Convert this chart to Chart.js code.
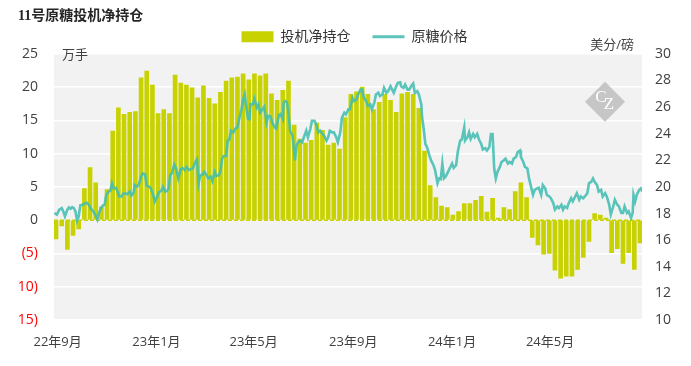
<!DOCTYPE html>
<html><head><meta charset="utf-8">
<script src="https://cdn.jsdelivr.net/npm/chart.js@4.4.1/dist/chart.umd.min.js"></script>
<style>html,body{margin:0;padding:0;background:#fff;}#wrap{width:691px;height:366px;}</style>
</head><body><div id="wrap"><canvas id="c" width="691" height="366"></canvas></div>
<script>
// ---- data ----
const firstReportDate = '2022-08-30';   // weekly CFTC reports from this date
const netPositions = [ // 投机净持仓, 万手
  -2.8,-0.85,-4.4,-2.3,-1.3,4.75,7.9,5.6,2.0,4.6,
  13.4,16.9,15.9,16.2,16.3,21.4,22.4,20.3,16.0,16.6,
  16.0,21.8,20.6,20.3,19.9,18.4,20.2,18.3,17.5,19.2,
  20.9,21.4,21.5,22.0,21.1,22.0,21.7,22.0,19.0,18.0,
  19.5,20.9,14.3,12.2,11.6,12.0,14.6,13.5,11.3,11.6,
  10.7,15.4,18.9,19.3,20.0,18.9,16.6,17.7,18.9,18.0,
  16.2,19.0,19.2,18.9,16.8,10.4,5.2,3.4,2.1,1.9,
  0.75,1.3,2.5,2.5,3.0,3.6,1.2,3.3,0.3,1.9,
  1.6,4.3,5.6,3.4,-2.6,-3.7,-5.1,-5.0,-7.5,-8.7,
  -8.4,-8.4,-7.4,-5.6,-3.2,1.0,0.75,0.3,-4.9,-4.3,
  -6.5,-4.9,-7.4,-3.4
];
// 原糖价格 (美分/磅): days after firstReportDate, and price
const priceDays = [
  -2,1,4,7,9,11,14,16,18,20,22,24,26,28,30,33,36,38,41,43,46,48,51,53,56,58,60,62,65,67,
  69,71,74,76,78,81,83,86,88,91,93,96,97,100,102,105,107,110,112,115,117,120,122,125,127,130,132,135,137,139,
  141,143,146,148,151,154,156,159,161,164,166,169,171,174,176,178,181,183,186,188,191,193,196,198,201,203,205,207,210,212,
  214,216,219,221,224,226,229,231,233,234,237,239,240,243,245,248,250,252,255,257,260,262,265,267,270,272,275,277,280,281,
  283,285,287,289,292,294,295,297,299,301,304,306,309,311,314,316,319,321,324,326,329,331,334,336,338,341,343,346,348,351,
  353,356,358,361,363,366,368,371,373,376,378,380,383,385,388,390,393,395,398,400,403,405,408,410,413,415,417,420,422,425,
  426,429,431,434,436,439,441,443,446,448,451,452,454,456,458,461,463,466,468,471,473,475,477,479,481,484,486,489,491,494,
  496,499,501,504,505,508,510,512,515,517,520,522,525,527,530,532,535,537,539,541,543,545,548,550,553,555,558,560,563,565,
  568,570,573,574,577,579,582,584,587,589,591,594,596,599,601,604,606,609,611,614,616,619,621,624,626,628,631,633,636,638,
  641,643,646,648,651,653,656,658,661,663,665,668,670,673,675,678,680,683,685,688,690,693,695,698,700,702,705,707,710,712,
  713,715,717,720,722,724
];
const priceValues = [
  18.04,17.92,18.29,18.41,18.16,17.79,18.29,18.46,18.36,18.48,18.41,18.16,17.47,17.79,18.61,18.66,18.76,18.81,18.61,18.36,18.16,17.96,17.55,18.04,18.46,18.61,18.66,19.40,19.65,19.70,
  20.27,19.89,19.94,19.65,19.28,19.28,19.50,19.50,19.45,19.65,19.35,19.60,20.14,20.02,20.14,20.76,21.01,20.93,20.09,20.02,19.89,19.40,18.91,19.28,19.60,19.70,20.02,19.65,19.70,19.89,
  20.88,21.01,21.68,21.43,20.64,21.33,21.43,21.26,21.50,21.26,21.33,21.38,21.75,22.07,20.27,20.88,20.93,21.13,20.88,20.64,20.76,20.44,21.13,20.83,20.88,21.18,22.12,22.32,22.32,23.48,
  23.56,24.22,24.10,24.35,24.47,25.09,25.83,26.57,26.94,26.38,25.14,25.09,26.20,26.20,26.62,25.96,26.20,25.58,25.83,26.03,24.84,25.34,25.29,24.84,24.47,24.40,25.38,25.46,25.09,26.33,
  26.45,26.38,25.58,24.22,23.85,22.62,22.00,23.11,23.36,23.48,23.36,23.73,24.22,23.73,24.35,24.97,24.97,24.72,24.10,24.22,23.98,23.85,23.48,23.73,24.22,24.10,24.10,23.73,23.36,24.10,
  25.21,25.58,25.46,25.83,25.83,26.70,26.45,26.57,26.94,27.31,27.31,26.70,26.45,26.08,26.20,25.83,26.33,26.94,27.07,26.82,26.94,27.44,27.07,27.19,27.56,27.31,27.07,27.56,27.81,27.86,
  27.56,27.44,27.69,27.31,27.31,27.61,27.76,27.07,27.19,26.94,26.20,25.21,24.35,23.23,22.99,22.37,22.00,21.63,21.26,20.27,20.64,20.59,21.75,20.64,20.76,21.13,21.38,21.75,21.43,21.63,
  22.62,23.48,23.56,24.47,23.48,23.73,24.10,23.60,23.98,23.73,23.98,23.60,23.23,22.81,22.91,22.74,22.99,23.98,23.98,21.38,20.64,21.13,21.50,21.87,22.00,22.12,21.75,21.87,21.75,22.12,
  22.25,22.62,22.74,22.25,21.87,21.50,21.38,20.64,19.89,19.40,19.77,19.89,19.94,19.40,20.14,19.89,19.40,19.28,19.15,18.78,18.29,18.53,18.41,18.66,18.29,18.53,18.41,18.78,19.15,18.91,
  19.28,19.52,19.03,19.28,19.15,19.28,19.52,20.27,20.39,20.64,20.39,20.14,19.65,19.77,19.28,19.52,19.28,18.66,17.92,18.53,19.03,18.66,18.53,18.04,18.04,18.53,18.04,18.16,17.67,18.04,
  19.40,18.91,19.40,19.77,19.89,19.65
];
const tickMonths = ['2022-09-01','2023-01-01','2023-05-01','2023-09-01','2024-01-01','2024-05-01'];
const tickLabels = ['22年9月','23年1月','23年5月','23年9月','24年1月','24年5月'];
const seriesNames = ['投机净持仓','原糖价格'];

// ---- build ----
const DAY = 86400000;
const t0 = Date.parse(firstReportDate);
const tickDays = tickMonths.map(s => (Date.parse(s) - t0) / DAY);
const lastDay = (netPositions.length - 1) * 7;
const xMin = -2.5, xMax = lastDay + 2.5;
const barData = netPositions.map((v, i) => ({x: i * 7, y: v}));
const lineData = priceDays.map((d, i) => ({x: d, y: priceValues[i]}));

const FONT = '"Open Sans","Noto Sans CJK SC",sans-serif';
const BAR = '#c8d200';
const TEAL = 'rgba(66,189,178,0.88)';

const bgPlugin = {
  id: 'bg',
  beforeDraw(chart) {
    const {ctx, chartArea: a} = chart;
    ctx.save(); ctx.fillStyle = '#f2f2f2';
    ctx.fillRect(a.left, a.top, a.right - a.left, a.bottom - a.top);
    ctx.restore();
  },
  afterDraw(chart) {
    const {ctx, chartArea: a} = chart;
    ctx.save();
    ctx.fillStyle = '#404040';
    ctx.font = '13px ' + FONT;
    ctx.textBaseline = 'middle';
    ctx.textAlign = 'left';
    ctx.fillText('万手', a.left + 8, a.top + 1);
    ctx.textAlign = 'right';
    ctx.fillText('美分/磅', a.right - 8, a.top - 9);
    // watermark
    const cx = a.right - 37, cy = a.top + 48, r = 20;
    ctx.fillStyle = '#c6c6c6';
    ctx.beginPath(); ctx.moveTo(cx, cy - r); ctx.lineTo(cx + r, cy); ctx.lineTo(cx, cy + r); ctx.lineTo(cx - r, cy); ctx.closePath(); ctx.fill();
    ctx.fillStyle = '#ffffff';
    ctx.font = '17px "Liberation Serif",serif';
    ctx.textAlign = 'center';
    ctx.fillText('C', cx - 4, cy - 4);
    ctx.fillText('Z', cx + 4, cy + 3);
    ctx.restore();
  }
};

new Chart(document.getElementById('c'), {
  data: {
    datasets: [
      {type: 'bar', label: seriesNames[0], data: barData, backgroundColor: BAR, barThickness: 4, yAxisID: 'y', order: 2, pointStyle: 'rect'},
      {type: 'line', label: seriesNames[1], data: lineData, borderColor: TEAL, borderWidth: 2.6, pointRadius: 0, pointStyle: 'line', pointBorderColor: '#5cc4ba', pointBorderWidth: 3, tension: 0, yAxisID: 'y1', order: 0},
      {type: 'line', label: 'zero', data: [{x: xMin, y: 0}, {x: xMax, y: 0}], borderColor: BAR, borderWidth: 1.5, borderDash: [4, 2], pointRadius: 0, yAxisID: 'y', order: 1}
    ]
  },
  options: {
    responsive: false, animation: false, devicePixelRatio: 1,
    layout: {padding: {left: 18, right: 0, top: 0, bottom: 0}},
    plugins: {
      tooltip: {enabled: false},
      title: {display: true, text: '11号原糖投机净持仓', align: 'start', color: '#262626',
        font: {size: 14, weight: 'bold', family: '"Liberation Serif","Noto Sans CJK SC",serif'}, padding: {top: 8, bottom: -17}},
      legend: {position: 'top', labels: {usePointStyle: true, pointStyleWidth: 32, boxWidth: 32, boxHeight: 11, padding: 22,
        color: '#333333', font: {size: 14, family: FONT},
        filter: it => it.datasetIndex < 2, sort: (a, b) => a.datasetIndex - b.datasetIndex}}
    },
    scales: {
      x: {type: 'linear', offset: false, min: xMin, max: xMax, grid: {display: false, offset: false, drawTicks: false}, border: {display: false},
        afterBuildTicks: s => { s.ticks = tickDays.map(v => ({value: v})); },
        ticks: {autoSkip: false, maxRotation: 0, padding: 14, color: '#404040', font: {size: 13, family: FONT},
          callback: (v, i) => tickLabels[i]},
        afterFit: s => { s.height = 46; }},
      y: {position: 'left', min: -15, max: 25,
        ticks: {stepSize: 5, padding: 16, font: {size: 14, family: FONT},
          color: c => c.tick.value < 0 ? '#ff0000' : '#404040',
          callback: v => v < 0 ? '(' + (-v) + ')' : String(v)},
        grid: {color: c => c.tick.value === 0 ? 'rgba(0,0,0,0)' : '#ffffff', lineWidth: 1.5, drawTicks: false},
        border: {display: false},
        afterFit: s => { s.width = 36; }},
      y1: {position: 'right', min: 10, max: 30,
        ticks: {stepSize: 2, padding: 13, color: '#404040', font: {size: 14, family: FONT}},
        grid: {drawOnChartArea: false, drawTicks: false}, border: {display: false},
        afterFit: s => { s.width = 49; }}
    }
  },
  plugins: [bgPlugin]
});
</script></body></html>
